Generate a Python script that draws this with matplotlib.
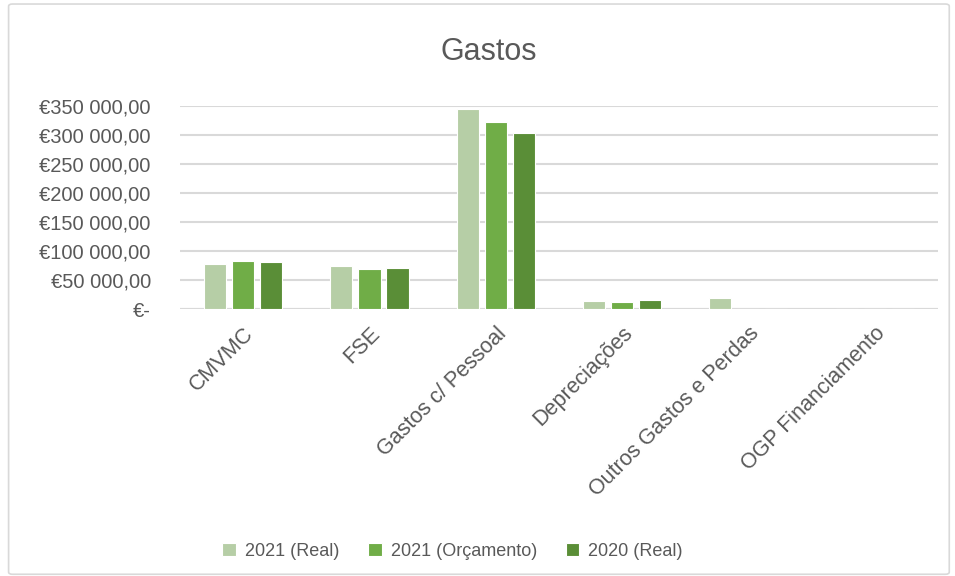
import matplotlib.pyplot as plt
import numpy as np
from matplotlib.patches import FancyBboxPatch
from matplotlib.ticker import FuncFormatter

plt.rcParams['font.family'] = ['Liberation Sans', 'DejaVu Sans']

categories = ['CMVMC', 'FSE', 'Gastos c/ Pessoal', 'Depreciações',
              'Outros Gastos e Perdas', 'OGP Financiamento']
series_names = ['2021 (Real)', '2021 (Orçamento)', '2020 (Real)']
real_2021 = [76800, 74400, 345500, 14500, 18500, 0]
orcamento_2021 = [82500, 68200, 323000, 12800, 0, 0]
real_2020 = [81300, 70400, 302800, 16300, 0, 0]
colors = ['#B6CEA6', '#70AD47', '#5A8E37']

fig = plt.figure(figsize=(9.55, 5.76), dpi=100)
ax = fig.add_axes([0.1885, 0.4635, 0.7935, 0.3525])

# chart border
border = FancyBboxPatch((0.009, 0.003), 0.985, 0.99, boxstyle='round,pad=0,rounding_size=0.004',
                        transform=fig.transFigure, fill=False, edgecolor='#D9D9D9', linewidth=1.2)
fig.patches.append(border)

x = np.arange(len(categories))
width = 0.175
step = 0.222
for i, (vals, name) in enumerate(zip([real_2021, orcamento_2021, real_2020], series_names)):
    ax.bar(x + (i - 1) * step, vals, width, color=colors[i], label=name,
           edgecolor='white', linewidth=0.8, zorder=3)

ax.set_xlim(-0.5, len(categories) - 0.5)
ax.set_ylim(0, 350000)
ax.set_yticks(np.arange(0, 350001, 50000))


def euro(v, pos):
    if v == 0:
        return '€-'
    return ('€{:,.2f}'.format(v)).replace(',', ' ').replace('.', ',')


ax.yaxis.set_major_formatter(FuncFormatter(euro))
ax.grid(axis='y', color='#D9D9D9', linewidth=1.5, zorder=0)
for s in ax.spines.values():
    s.set_visible(False)
ax.tick_params(axis='y', length=0, pad=21, labelsize=14.5, labelcolor='#595959')
ax.tick_params(axis='x', length=0, pad=10, labelsize=15.5, labelcolor='#595959')
ax.set_xticks(x)
ax.set_xticklabels(categories, rotation=45, ha='right', rotation_mode='anchor')
ax.axhline(0, color='#D9D9D9', linewidth=1.5, zorder=2)

fig.text(0.512, 0.91, 'Gastos', ha='center', va='center', fontsize=22, color='#595959')

fig.legend(loc='lower center', bbox_to_anchor=(0.474, 0.0), ncol=3, frameon=False,
           fontsize=13, labelcolor='#595959', handlelength=0.75, handleheight=0.75,
           columnspacing=1.6, handletextpad=0.5)

plt.savefig('out.png', dpi=100)
